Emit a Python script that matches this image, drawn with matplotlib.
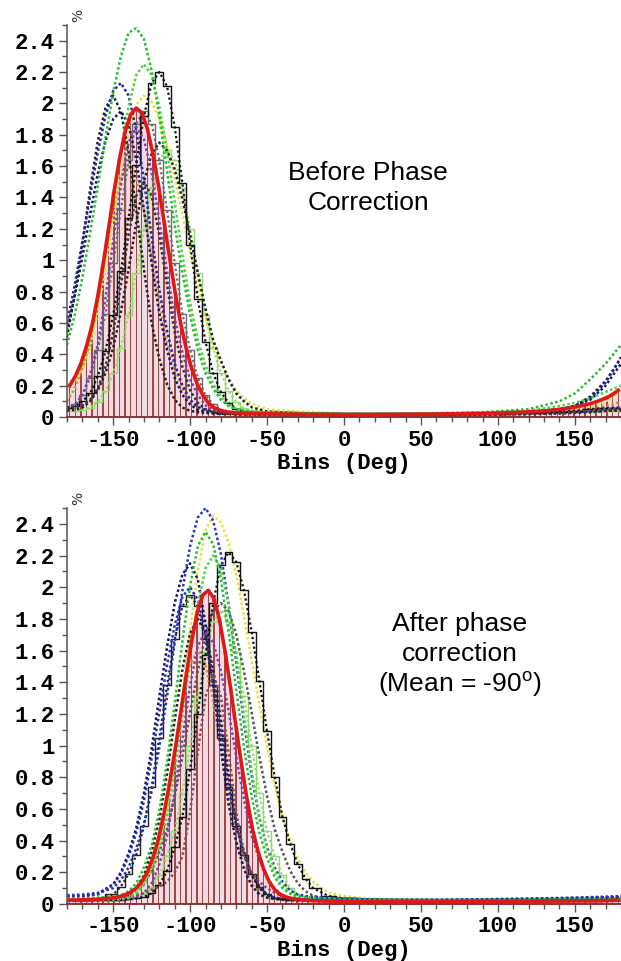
import matplotlib
matplotlib.use("Agg")
import matplotlib.pyplot as plt
from matplotlib.ticker import MultipleLocator, FuncFormatter

plt.rcParams['axes.unicode_minus'] = False
plt.rcParams['mathtext.fontset'] = 'custom'
plt.rcParams['mathtext.rm'] = 'Liberation Sans'

# ---------------- data ----------------
# bin centres of the mean histogram (3.6 deg bins)
bin_centers = [-178.2 + 3.6 * i for i in range(100)]

top_mean = [0.20, 0.26, 0.34, 0.45, 0.58, 0.76, 0.97, 1.20, 1.44, 1.65, 1.82, 1.93, 1.97,
            1.94, 1.84, 1.68, 1.48, 1.25, 1.02, 0.80, 0.60, 0.44, 0.31, 0.21, 0.14, 0.09, 0.06, 0.045,
            0.035, 0.03, 0.027, 0.025, 0.023, 0.022, 0.021, 0.02, 0.02, 0.019, 0.019, 0.018, 0.018,
            0.018, 0.017, 0.017, 0.017, 0.016, 0.016, 0.016, 0.016, 0.015, 0.015, 0.015, 0.015, 0.015, 0.015, 0.015, 0.016, 0.016, 0.016, 0.016, 0.017,
            0.017, 0.017, 0.018, 0.018, 0.018, 0.019, 0.019, 0.02, 0.02, 0.02, 0.021, 0.021, 0.022, 0.022, 0.023, 0.024, 0.025, 0.026, 0.027, 0.028,
            0.03, 0.031, 0.033, 0.035, 0.037, 0.04, 0.043, 0.047, 0.051, 0.056, 0.062, 0.069, 0.077, 0.086, 0.097, 0.11, 0.125, 0.145, 0.17]

bot_mean = [0.025, 0.025, 0.026, 0.027, 0.028, 0.03, 0.032, 0.035, 0.04, 0.047, 0.058, 0.075, 0.10,
            0.14, 0.20, 0.29, 0.41, 0.57, 0.76, 0.97, 1.20, 1.44, 1.66, 1.84, 1.95, 1.98,
            1.93, 1.80, 1.60, 1.37, 1.12, 0.88, 0.66, 0.47, 0.33, 0.22, 0.14, 0.09, 0.06, 0.045, 0.035,
            0.03, 0.026, 0.023, 0.021, 0.02,
            0.019, 0.018, 0.018, 0.017, 0.017, 0.016, 0.016, 0.016, 0.015, 0.015, 0.015, 0.015, 0.015, 0.015, 0.015,
            0.016, 0.016, 0.016, 0.016, 0.016, 0.016, 0.016, 0.016, 0.016, 0.016,
            0.017, 0.017, 0.017, 0.017, 0.017, 0.017, 0.017, 0.017, 0.017, 0.017,
            0.018, 0.018, 0.018, 0.018, 0.018, 0.019, 0.019, 0.019, 0.019, 0.019,
            0.02, 0.02, 0.02, 0.02, 0.02, 0.021, 0.022, 0.023, 0.024]

# individual recordings, before correction
top_x = [-180, -175, -170, -165, -160, -155, -150, -145, -140, -135, -130, -125, -120,
         -115, -110, -105, -100, -95, -90, -85, -80, -75, -70, -65, -60,
         -50, -30, 0, 30, 60, 90, 120, 140, 150, 160, 170, 175, 180]
top_green = [0.46, 0.65, 0.89, 1.17, 1.47, 1.78, 2.07, 2.30, 2.45, 2.48, 2.41, 2.21, 1.92, 1.57, 1.22, 0.92, 0.65, 0.43, 0.28, 0.18, 0.11, 0.07, 0.05, 0.04, 0.035,
             0.03, 0.025, 0.02, 0.02, 0.025, 0.03, 0.05, 0.10, 0.15, 0.24, 0.34, 0.40, 0.46]
top_green2 = [0.20, 0.25, 0.33, 0.49, 0.73, 1.03, 1.37, 1.70, 1.98, 2.18, 2.25, 2.18, 1.98, 1.70, 1.37, 1.03, 0.73, 0.49, 0.33, 0.21, 0.13, 0.08, 0.055, 0.04, 0.035,
              0.03, 0.025, 0.02, 0.02, 0.022, 0.028, 0.04, 0.07, 0.09, 0.12, 0.16, 0.18, 0.20]
top_black1 = [0.06, 0.07, 0.10, 0.15, 0.26, 0.42, 0.65, 0.93, 1.27, 1.61, 1.92, 2.13, 2.20, 2.11, 1.85, 1.49, 1.10, 0.75, 0.48, 0.28, 0.16, 0.09, 0.05, 0.035, 0.03,
              0.025, 0.02, 0.015, 0.015, 0.02, 0.02, 0.025, 0.035, 0.04, 0.05, 0.055, 0.06, 0.06]
top_blue = [0.60, 0.84, 1.12, 1.41, 1.69, 1.92, 2.08, 2.13, 2.05, 1.83, 1.51, 1.15, 0.81, 0.55, 0.34, 0.20, 0.11, 0.065, 0.045, 0.035, 0.03, 0.028, 0.026, 0.025, 0.025,
            0.024, 0.022, 0.02, 0.02, 0.022, 0.026, 0.035, 0.05, 0.07, 0.12, 0.22, 0.30, 0.38]
top_navy = [0.55, 0.77, 1.02, 1.29, 1.55, 1.76, 1.90, 1.95, 1.87, 1.64, 1.32, 0.98, 0.66, 0.43, 0.25, 0.14, 0.08, 0.045, 0.035, 0.03, 0.025, 0.025, 0.025, 0.025, 0.025,
            0.022, 0.02, 0.018, 0.018, 0.02, 0.024, 0.032, 0.05, 0.07, 0.11, 0.20, 0.27, 0.34]
top_black2 = [0.51, 0.78, 1.10, 1.45, 1.76, 1.97, 2.05, 1.95, 1.69, 1.32, 0.94, 0.60, 0.37, 0.21, 0.11, 0.06, 0.04, 0.03, 0.025, 0.022, 0.02, 0.02, 0.02, 0.02, 0.02,
              0.02, 0.018, 0.016, 0.016, 0.018, 0.02, 0.03, 0.045, 0.07, 0.13, 0.23, 0.30, 0.38]
top_gray = [0.06, 0.08, 0.14, 0.25, 0.43, 0.66, 0.98, 1.32, 1.64, 1.87, 1.95, 1.87, 1.64, 1.32, 0.98, 0.66, 0.43, 0.25, 0.14, 0.08, 0.045, 0.035, 0.03, 0.025, 0.025,
            0.02, 0.018, 0.015, 0.015, 0.018, 0.02, 0.025, 0.03, 0.035, 0.04, 0.05, 0.055, 0.06]
top_black4 = [0.04, 0.045, 0.06, 0.10, 0.17, 0.28, 0.44, 0.67, 0.94, 1.24, 1.50, 1.68, 1.75, 1.70, 1.58, 1.39, 1.16, 0.92, 0.69, 0.49, 0.36, 0.24, 0.15, 0.10, 0.062,
              0.035, 0.025, 0.02, 0.02, 0.02, 0.022, 0.025, 0.03, 0.032, 0.035, 0.04, 0.04, 0.04]
top_yellow = [0.20, 0.22, 0.30, 0.44, 0.67, 0.94, 1.24, 1.55, 1.81, 1.99, 2.05, 2.01, 1.90, 1.74, 1.53, 1.29, 1.05, 0.83, 0.63, 0.46, 0.35, 0.25, 0.17, 0.12, 0.085,
              0.05, 0.035, 0.025, 0.02, 0.02, 0.025, 0.03, 0.04, 0.05, 0.07, 0.10, 0.13, 0.18]
top_lgreen = [0.04, 0.04, 0.045, 0.06, 0.095, 0.165, 0.28, 0.44, 0.65, 0.92, 1.20, 1.46, 1.64, 1.70, 1.64, 1.46, 1.20, 0.92, 0.65, 0.44, 0.28, 0.165, 0.095, 0.056, 0.04,
              0.03, 0.025, 0.02, 0.02, 0.02, 0.022, 0.025, 0.03, 0.03, 0.035, 0.04, 0.04, 0.04]
top_purple = [0.05, 0.075, 0.14, 0.27, 0.46, 0.76, 1.12, 1.48, 1.75, 1.85, 1.77, 1.56, 1.25, 0.93, 0.63, 0.41, 0.24, 0.14, 0.075, 0.045, 0.03, 0.025, 0.02, 0.02, 0.02,
              0.02, 0.015, 0.012, 0.012, 0.015, 0.018, 0.02, 0.025, 0.03, 0.04, 0.05, 0.055, 0.06]
top_black3 = [0.05, 0.06, 0.075, 0.11, 0.18, 0.32, 0.54, 0.84, 1.16, 1.41, 1.50, 1.41, 1.16, 0.84, 0.54, 0.32, 0.17, 0.09, 0.05, 0.03, 0.02, 0.02, 0.015, 0.015, 0.015,
              0.015, 0.012, 0.01, 0.01, 0.012, 0.014, 0.018, 0.022, 0.026, 0.03, 0.038, 0.042, 0.05]
top_orange = [0.10, 0.18, 0.31, 0.47, 0.73, 1.03, 1.32, 1.52, 1.60, 1.52, 1.32, 1.03, 0.73, 0.47, 0.31, 0.18, 0.10, 0.06, 0.04, 0.03, 0.025, 0.022, 0.02, 0.02, 0.02,
              0.02, 0.018, 0.015, 0.015, 0.018, 0.02, 0.025, 0.03, 0.04, 0.05, 0.07, 0.08, 0.10]

# individual recordings, after correction
bot_x = [-180, -170, -160, -150, -145, -140, -135, -130, -125, -120, -115, -110, -105, -100,
         -95, -90, -85, -80, -75, -70, -65, -60, -55, -50, -45, -40, -35, -30, -25, -20,
         -10, 0, 15, 30, 60, 90, 120, 150, 180]
bot_blue = [0.055, 0.06, 0.07, 0.10, 0.15, 0.23, 0.35, 0.51, 0.71, 0.99, 1.31, 1.65, 1.98, 2.26, 2.44, 2.50, 2.42, 2.21, 1.89, 1.52, 1.15, 0.81, 0.54, 0.36, 0.23, 0.14, 0.085, 0.06, 0.05, 0.045,
            0.04, 0.035, 0.03, 0.028, 0.028, 0.03, 0.035, 0.04, 0.05]
bot_blue2 = [0.05, 0.05, 0.06, 0.12, 0.19, 0.30, 0.45, 0.65, 0.92, 1.21, 1.51, 1.76, 1.94, 2.00, 1.92, 1.71, 1.41, 1.08, 0.76, 0.50, 0.32, 0.19, 0.11, 0.06, 0.04, 0.035, 0.03, 0.03, 0.03, 0.03,
             0.03, 0.028, 0.025, 0.025, 0.025, 0.028, 0.032, 0.038, 0.045]
bot_yellow = [0.035, 0.035, 0.035, 0.04, 0.045, 0.055, 0.08, 0.14, 0.24, 0.39, 0.61, 0.93, 1.32, 1.73, 2.10, 2.36, 2.45, 2.41, 2.28, 2.08, 1.82, 1.54, 1.26, 0.99, 0.75, 0.55, 0.40, 0.29, 0.20, 0.14,
              0.07, 0.05, 0.035, 0.03, 0.025, 0.025, 0.03, 0.03, 0.035]
bot_green = [0.035, 0.035, 0.04, 0.045, 0.055, 0.08, 0.13, 0.23, 0.37, 0.59, 0.90, 1.27, 1.66, 2.01, 2.26, 2.35, 2.27, 2.05, 1.72, 1.35, 0.99, 0.68, 0.45, 0.29, 0.17, 0.10, 0.065, 0.05, 0.045, 0.04,
             0.035, 0.03, 0.03, 0.028, 0.026, 0.026, 0.03, 0.032, 0.035]
bot_green2 = [0.03, 0.028, 0.028, 0.028, 0.03, 0.04, 0.066, 0.12, 0.21, 0.35, 0.55, 0.84, 1.19, 1.56, 1.89, 2.12, 2.20, 2.12, 1.89, 1.56, 1.19, 0.84, 0.55, 0.35, 0.21, 0.12, 0.066, 0.04, 0.03, 0.028,
              0.025, 0.025, 0.022, 0.022, 0.022, 0.022, 0.025, 0.028, 0.03]
bot_black1 = [0.025, 0.025, 0.025, 0.025, 0.028, 0.03, 0.035, 0.045, 0.067, 0.12, 0.21, 0.36, 0.55, 0.85, 1.20, 1.57, 1.90, 2.14, 2.22, 2.16, 1.98, 1.72, 1.41, 1.09, 0.80, 0.55, 0.38, 0.25, 0.16, 0.10,
              0.05, 0.035, 0.03, 0.025, 0.022, 0.022, 0.025, 0.028, 0.03]
bot_black3 = [0.03, 0.028, 0.03, 0.06, 0.11, 0.19, 0.31, 0.49, 0.74, 1.05, 1.38, 1.67, 1.88, 1.95, 1.88, 1.67, 1.38, 1.05, 0.74, 0.49, 0.31, 0.19, 0.11, 0.06, 0.04, 0.03, 0.028, 0.028, 0.028, 0.028,
              0.025, 0.025, 0.022, 0.02, 0.02, 0.02, 0.022, 0.025, 0.03]
bot_gray = [0.03, 0.028, 0.028, 0.03, 0.04, 0.052, 0.08, 0.13, 0.21, 0.33, 0.47, 0.68, 0.93, 1.21, 1.47, 1.70, 1.85, 1.90, 1.85, 1.70, 1.47, 1.21, 0.93, 0.68, 0.47, 0.33, 0.21, 0.13, 0.08, 0.052,
            0.03, 0.028, 0.025, 0.022, 0.02, 0.02, 0.022, 0.025, 0.03]
bot_navy = [0.05, 0.05, 0.065, 0.125, 0.20, 0.32, 0.48, 0.70, 0.98, 1.31, 1.62, 1.90, 2.08, 2.15, 2.05, 1.77, 1.38, 0.98, 0.63, 0.39, 0.22, 0.115, 0.06, 0.04, 0.032, 0.03, 0.028, 0.028, 0.028, 0.028,
            0.025, 0.025, 0.022, 0.022, 0.022, 0.025, 0.03, 0.035, 0.04]
bot_black2 = [0.022, 0.022, 0.025, 0.028, 0.035, 0.055, 0.10, 0.18, 0.33, 0.53, 0.82, 1.16, 1.48, 1.71, 1.80, 1.71, 1.48, 1.16, 0.82, 0.53, 0.33, 0.18, 0.10, 0.055, 0.035, 0.028, 0.025, 0.022, 0.022, 0.022,
              0.02, 0.02, 0.018, 0.018, 0.018, 0.018, 0.02, 0.02, 0.022]
bot_purple = [0.02, 0.02, 0.02, 0.02, 0.025, 0.03, 0.04, 0.07, 0.13, 0.25, 0.43, 0.71, 1.04, 1.38, 1.63, 1.72, 1.65, 1.47, 1.22, 0.93, 0.66, 0.43, 0.28, 0.17, 0.095, 0.056, 0.035, 0.028, 0.024, 0.022,
              0.02, 0.018, 0.016, 0.016, 0.016, 0.016, 0.018, 0.02, 0.02]
bot_brown = [0.02, 0.02, 0.025, 0.03, 0.035, 0.045, 0.055, 0.07, 0.09, 0.11, 0.14, 0.20, 0.30, 0.58, 0.96, 1.31, 1.45, 1.31, 0.96, 0.58, 0.30, 0.20, 0.14, 0.10, 0.07, 0.05, 0.04, 0.03, 0.025, 0.022,
             0.02, 0.018, 0.016, 0.015, 0.015, 0.015, 0.016, 0.018, 0.02]
bot_orange = [0.022, 0.022, 0.025, 0.028, 0.03, 0.04, 0.066, 0.13, 0.24, 0.40, 0.66, 0.97, 1.28, 1.51, 1.60, 1.51, 1.28, 0.97, 0.66, 0.40, 0.24, 0.13, 0.066, 0.04, 0.03, 0.025, 0.022, 0.022, 0.022, 0.022,
              0.02, 0.018, 0.016, 0.016, 0.016, 0.016, 0.018, 0.02, 0.022]
bot_lgreen = [0.025, 0.025, 0.025, 0.025, 0.028, 0.03, 0.04, 0.06, 0.10, 0.18, 0.30, 0.46, 0.70, 1.00, 1.31, 1.59, 1.78, 1.85, 1.78, 1.59, 1.31, 1.00, 0.70, 0.46, 0.30, 0.18, 0.10, 0.06, 0.04, 0.03,
              0.025, 0.022, 0.02, 0.02, 0.02, 0.02, 0.022, 0.024, 0.025]

y_ticks = [0, 0.2, 0.4, 0.6, 0.8, 1.0, 1.2, 1.4, 1.6, 1.8, 2.0, 2.2, 2.4]
x_ticks = [-150, -100, -50, 0, 50, 100, 150]

# (values, colour, kind)
top_series = [
    (top_lgreen, '#8fdc6a', 'step'),
    (top_orange, '#c89a3a', 'dot'),
    (top_gray, '#6a6a6a', 'step'),
    (top_yellow, '#e6e23a', 'dot'),
    (top_black4, '#222222', 'dot'),
    (top_black1, '#111111', 'step'),
    (top_navy, '#15156a', 'dot'),
    (top_black2, '#222222', 'dot'),
    (top_blue, '#1f22a8', 'dot'),
    (top_purple, '#7b3fb0', 'dot'),
    (top_black3, '#333333', 'dot'),
    (top_green2, '#4fd040', 'dot'),
    (top_green, '#22c02a', 'dot'),
]
bot_series = [
    (bot_lgreen, '#8fdc6a', 'step'),
    (bot_orange, '#c89a3a', 'dot'),
    (bot_gray, '#555555', 'dot'),
    (bot_yellow, '#e6e23a', 'dot'),
    (bot_black1, '#111111', 'step'),
    (bot_black3, '#222222', 'step'),
    (bot_navy, '#14145e', 'dot'),
    (bot_blue2, '#2a2ab8', 'dot'),
    (bot_blue, '#2033c8', 'dot'),
    (bot_black2, '#222222', 'dot'),
    (bot_purple, '#7b3fb0', 'dot'),
    (bot_brown, '#8a4a5a', 'dot'),
    (bot_green2, '#4fd040', 'dot'),
    (bot_green, '#22c02a', 'dot'),
]

mono = 'Liberation Mono'

fig = plt.figure(figsize=(6.21, 9.61), dpi=100)
ax1 = fig.add_axes([67 / 621, 1 - 417 / 961, (621 - 67) / 621, (417 - 25) / 961])
ax2 = fig.add_axes([67 / 621, 1 - 904 / 961, (621 - 67) / 621, (904 - 508) / 961])


def draw(ax, xs, series, mean):
    ax.bar(bin_centers, mean, width=3.6, color='#f3dbe3', linewidth=0, zorder=1)
    ax.bar(bin_centers, mean, width=0.9, color='#a04848', linewidth=0, zorder=1.2)
    for vals, col, kind in series:
        if kind == 'step':
            ax.plot(xs, vals, color=col, lw=1.0, drawstyle='steps-mid', zorder=2)
            ax.plot(xs, vals, color=col, lw=1.6, ls=(0, (1, 1.2)), zorder=2)
        else:
            ax.plot(xs, vals, color=col, lw=1.8, ls=(0, (1, 1.0)), zorder=2)
    ax.plot(bin_centers, mean, color='#e01818', lw=2.6, zorder=3)
    ax.set_xlim(-180, 180)
    ax.set_ylim(0, 2.5)
    ax.spines['top'].set_visible(False)
    ax.spines['right'].set_visible(False)
    ax.spines['left'].set_color('#555555')
    ax.spines['bottom'].set_color('#8c3434')
    ax.spines['left'].set_linewidth(1.1)
    ax.spines['bottom'].set_linewidth(1.4)
    ax.set_xticks(x_ticks)
    ax.set_yticks(y_ticks)
    ax.xaxis.set_minor_locator(MultipleLocator(10))
    ax.yaxis.set_minor_locator(MultipleLocator(0.1))
    ax.yaxis.set_major_formatter(FuncFormatter(lambda v, p: '0' if abs(v) < 1e-9 else '%g' % v))
    ax.xaxis.set_major_formatter(FuncFormatter(lambda v, p: '%d' % v))
    ax.tick_params(which='major', direction='out', length=6, width=1, color='#555555', pad=3)
    ax.tick_params(which='minor', direction='out', length=3.5, width=1, color='#555555')
    for lab in ax.get_xticklabels() + ax.get_yticklabels():
        lab.set_fontfamily(mono)
        lab.set_fontweight('bold')
        lab.set_fontsize(16)
    ax.set_xlabel('Bins (Deg)', fontfamily=mono, fontweight='bold', fontsize=16, labelpad=2)
    ax.text(-172.5, 2.56, '%', rotation=90, fontsize=10, fontfamily='DejaVu Sans',
            ha='center', va='center', clip_on=False, color='#333333')


draw(ax1, top_x, top_series, top_mean)
draw(ax2, bot_x, bot_series, bot_mean)

fig.text(368 / 621, 1 - 173 / 961, 'Before Phase', fontfamily='Liberation Sans', fontsize=19,
         ha='center', va='center')
fig.text(368 / 621, 1 - 203 / 961, 'Correction', fontfamily='Liberation Sans', fontsize=19,
         ha='center', va='center')
fig.text(460 / 621, 1 - 624 / 961, 'After phase', fontfamily='Liberation Sans', fontsize=19,
         ha='center', va='center')
fig.text(460 / 621, 1 - 654 / 961, 'correction', fontfamily='Liberation Sans', fontsize=19,
         ha='center', va='center')
fig.text(460 / 621, 1 - 684 / 961, r'(Mean = -90$^{\mathrm{o}}$)', fontfamily='Liberation Sans',
         fontsize=19, ha='center', va='center')

fig.savefig('out.png', dpi=100)
